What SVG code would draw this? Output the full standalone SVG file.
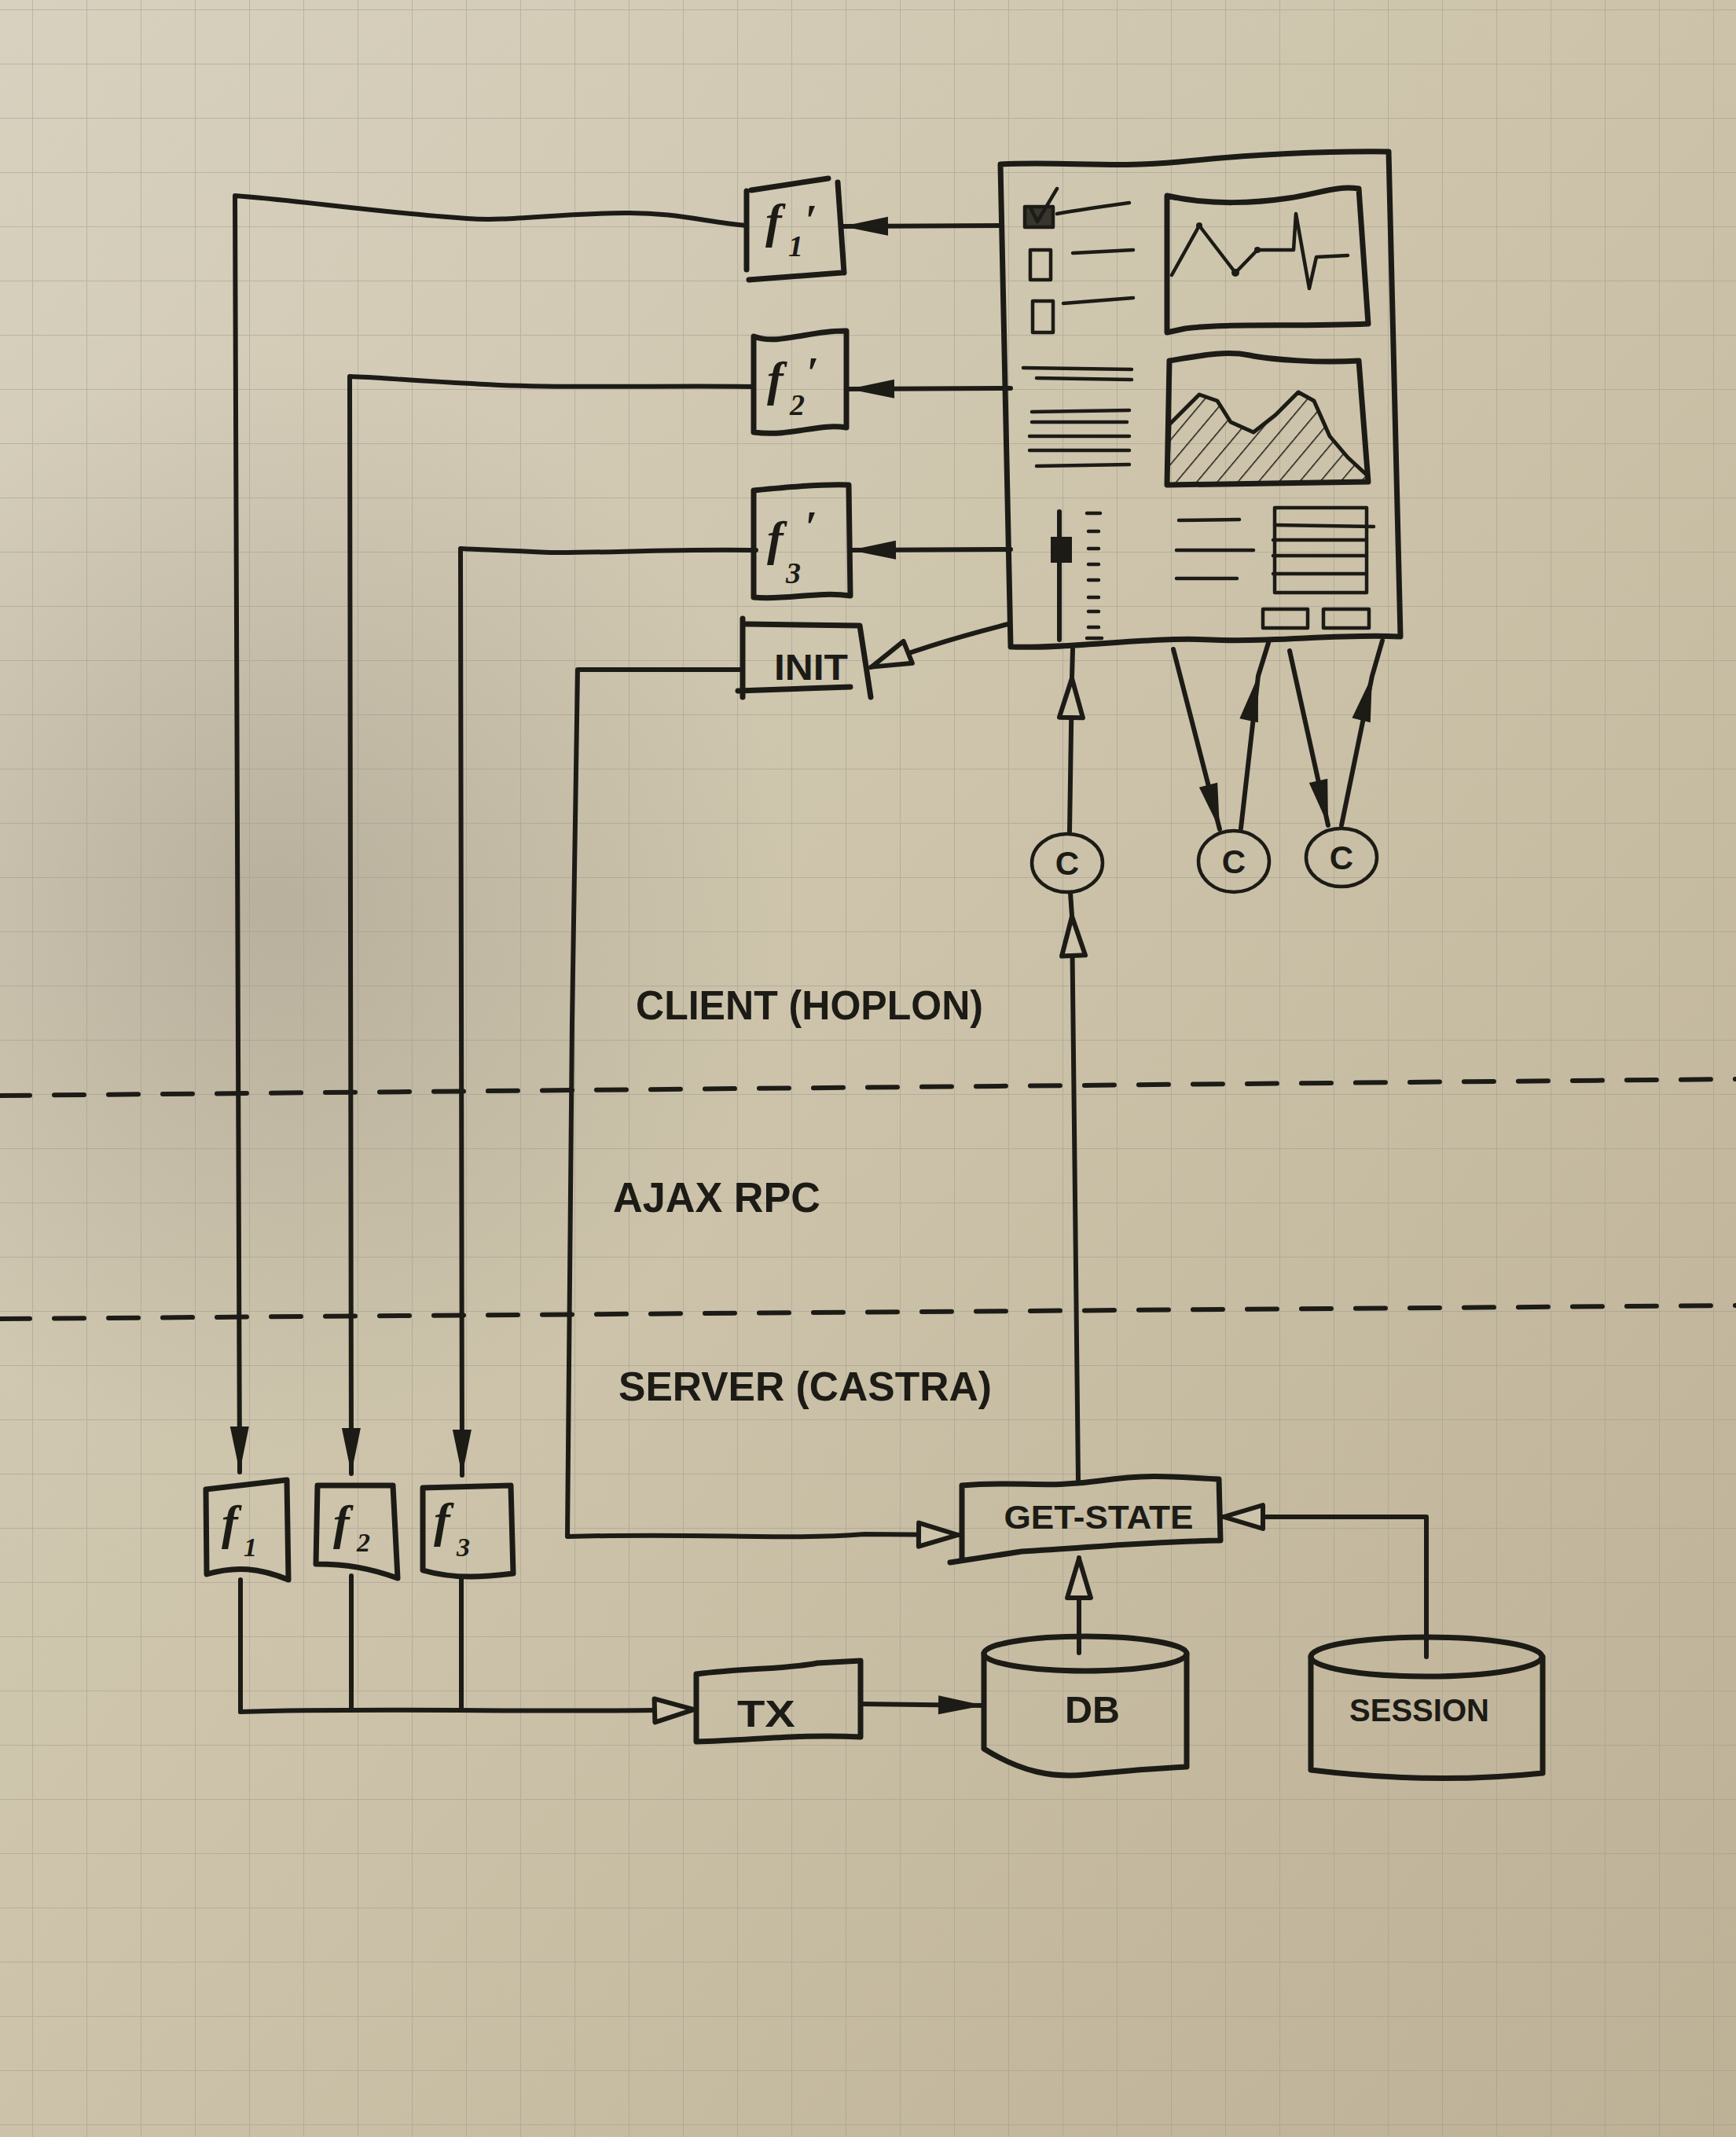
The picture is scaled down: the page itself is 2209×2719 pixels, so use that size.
<svg xmlns="http://www.w3.org/2000/svg" width="2209" height="2719" viewBox="0 0 2209 2719">
<defs>
  <linearGradient id="paper" x1="0" y1="0" x2="1" y2="1">
    <stop offset="0" stop-color="#d8d1bf"/>
    <stop offset="0.45" stop-color="#cdc4ab"/>
    <stop offset="1" stop-color="#bdb196"/>
  </linearGradient>
  <radialGradient id="shade" cx="0.5" cy="0.5" r="0.5">
    <stop offset="0" stop-color="#8a8375" stop-opacity="0.35"/>
    <stop offset="1" stop-color="#8a8375" stop-opacity="0"/>
  </radialGradient>
  <pattern id="grid" width="69" height="69" patternUnits="userSpaceOnUse" x="41" y="12">
    <path d="M0,0 H69 M0,0 V69" stroke="#9d988c" stroke-opacity="0.5" stroke-width="2" fill="none"/>
  </pattern>
  <pattern id="hatch" width="20" height="20" patternUnits="userSpaceOnUse" patternTransform="rotate(40)">
    <line x1="0" y1="0" x2="0" y2="20" stroke="#1c1b16" stroke-width="3"/>
  </pattern>
  <marker id="af" markerUnits="userSpaceOnUse" viewBox="0 0 62 28" refX="60" refY="14" markerWidth="62" markerHeight="28" orient="auto">
    <path d="M2,2 L60,14 L2,26 Z" fill="#1c1b16"/>
  </marker>
  <marker id="ao" markerUnits="userSpaceOnUse" viewBox="0 0 60 38" refX="56" refY="19" markerWidth="60" markerHeight="38" orient="auto">
    <path d="M5,4 L55,19 L5,34 Z" fill="#cdc4ab" stroke="#1c1b16" stroke-width="6" stroke-linejoin="round"/>
  </marker>
  <style>
    .ink{fill:none;stroke:#1c1b16;stroke-width:6;stroke-linecap:round;stroke-linejoin:round}
    .thin{fill:none;stroke:#1c1b16;stroke-width:4.5;stroke-linecap:round;stroke-linejoin:round}
    .box{fill:none;stroke:#1c1b16;stroke-width:7;stroke-linecap:round;stroke-linejoin:round}
    .lbl{font-family:"Liberation Sans","DejaVu Sans",sans-serif;fill:#1c1b16;font-weight:bold}
    .fi{font-family:"Liberation Serif","DejaVu Serif",serif;font-style:italic;fill:#1c1b16;font-weight:bold}
    .dash{fill:none;stroke:#1c1b16;stroke-width:6;stroke-dasharray:38 31;stroke-linecap:round}
  </style>
</defs>

<rect width="2209" height="2719" fill="url(#paper)"/>
<ellipse cx="350" cy="1150" rx="650" ry="700" fill="url(#shade)"/>
<rect width="2209" height="2719" fill="url(#grid)"/>

<!-- tier separators -->
<g id="separators">
  <line class="dash" x1="0" y1="1394" x2="2209" y2="1373"/>
  <line class="dash" x1="0" y1="1678" x2="2209" y2="1661"/>
</g>

<g id="tier-labels">
  <text class="lbl" x="809" y="1297" font-size="52" textLength="442" lengthAdjust="spacingAndGlyphs">CLIENT (HOPLON)</text>
  <text class="lbl" x="780" y="1542" font-size="54" textLength="264" lengthAdjust="spacingAndGlyphs">AJAX RPC</text>
  <text class="lbl" x="787" y="1782" font-size="52" textLength="475" lengthAdjust="spacingAndGlyphs">SERVER (CASTRA)</text>
</g>

<!-- connectors -->
<g id="connectors">
  <path class="ink" d="M950,287 C900,283 860,270 795,271 C700,272 650,282 594,278 C480,270 380,255 299,249 L305,1873" marker-end="url(#af)"/>
  <path class="ink" d="M959,492 C850,490 700,495 600,488 C520,484 480,480 445,479 L447,1875" marker-end="url(#af)"/>
  <path class="ink" d="M962,700 C860,698 760,704 700,703 C640,700 600,699 586,698 L588,1877" marker-end="url(#af)"/>
  <path class="ink" d="M945,852 L735,852 L728,1300 L722,1955 C900,1950 1000,1960 1100,1952 L1220,1953" marker-end="url(#ao)"/>

  <path class="ink" d="M1274,287 L1072,288" marker-end="url(#af)"/>
  <path class="ink" d="M1286,494 L1080,495" marker-end="url(#af)"/>
  <path class="ink" d="M1286,699 L1082,700" marker-end="url(#af)"/>
  <path class="ink" d="M1283,794 C1200,815 1150,832 1108,849" marker-end="url(#ao)"/>

  <path class="ink" d="M306,2010 L306,2178"/>
  <path class="ink" d="M447,2005 L447,2176"/>
  <path class="ink" d="M587,2006 L587,2176"/>
  <path class="ink" d="M306,2178 C500,2172 700,2180 884,2175" marker-end="url(#ao)"/>
  <path class="ink" d="M1095,2168 L1252,2170" marker-end="url(#af)"/>
  <path class="ink" d="M1373,2103 L1373,1982" marker-end="url(#ao)"/>
  <path class="ink" d="M1815,2108 L1815,1930 L1556,1930" marker-end="url(#ao)"/>

  <path class="ink" d="M1372,1885 L1364,1165 L1362,1136" marker-mid="url(#ao)"/>
  <path class="ink" d="M1361,1058 L1364,862 L1365,826" marker-mid="url(#ao)"/>
  <path class="ink" d="M1493,826 L1552,1055" marker-end="url(#af)"/>
  <path class="ink" d="M1579,1054 L1601,860 L1614,818" marker-mid="url(#af)"/>
  <path class="ink" d="M1641,828 L1690,1050" marker-end="url(#af)"/>
  <path class="ink" d="M1707,1050 L1746,860 L1759,815" marker-mid="url(#af)"/>
</g>

<!-- UI mockup panel -->
<g id="ui-panel">
  <path class="box" d="M1273,209 C1350,205 1420,214 1500,206 S1680,192 1767,193 L1782,810 C1700,806 1620,818 1540,814 S1360,826 1286,823 Z"/>
  <!-- checkboxes -->
  <rect x="1304" y="263" width="36" height="26" fill="#1c1b16" opacity="0.85"/>
  <rect class="thin" x="1304" y="263" width="36" height="26"/>
  <path class="thin" d="M1312,266 L1320,282 L1345,240"/>
  <path class="thin" d="M1345,272 C1380,266 1410,262 1437,258"/>
  <rect class="thin" x="1311" y="318" width="26" height="38"/>
  <path class="thin" d="M1365,322 L1442,318"/>
  <rect class="thin" x="1314" y="383" width="26" height="40"/>
  <path class="thin" d="M1353,386 L1442,379"/>
  <!-- chart 1 -->
  <path class="box" d="M1485,249 C1540,262 1600,258 1640,252 S1700,236 1729,240 L1741,412 C1650,416 1560,411 1508,418 L1485,423 Z"/>
  <path class="thin" d="M1491,350 L1526,287 L1572,347 L1600,318 L1646,318 L1649,272 L1666,367 L1675,327 L1715,325"/>
  <circle cx="1526" cy="287" r="4" fill="#1c1b16"/>
  <circle cx="1572" cy="347" r="5" fill="#1c1b16"/>
  <circle cx="1600" cy="318" r="4" fill="#1c1b16"/>
  <!-- chart 2 -->
  <path d="M1488,540 L1526,502 L1549,510 L1566,537 L1595,550 L1623,528 L1652,499 L1672,510 L1692,555 L1715,582 L1741,606 L1741,613 L1485,617 Z" fill="url(#hatch)" stroke="#1c1b16" stroke-width="5" stroke-linejoin="round"/>
  <path class="box" d="M1488,459 C1530,452 1560,446 1590,452 S1680,462 1729,459 L1741,613 L1485,617 Z"/>
  <!-- text lines -->
  <path class="thin" d="M1302,468 L1440,470 M1319,481 L1440,483 M1313,524 L1437,522 M1313,537 L1434,537 M1310,555 L1437,555 M1310,573 L1437,573 M1319,593 L1437,591"/>
  <!-- slider -->
  <path class="ink" d="M1348,651 L1348,814"/>
  <rect x="1337" y="683" width="27" height="33" fill="#1c1b16"/>
  <path class="thin" d="M1383,653 L1400,653 M1385,676 L1398,676 M1385,698 L1398,698 M1385,718 L1398,718 M1385,738 L1398,738 M1385,760 L1398,760 M1385,778 L1398,778 M1385,798 L1398,798 M1383,812 L1402,812"/>
  <!-- labels and fields -->
  <path class="thin" d="M1500,662 L1577,661 M1497,700 L1595,700 M1497,736 L1574,736"/>
  <rect class="thin" x="1622" y="646" width="117" height="108"/>
  <path class="thin" d="M1622,668 L1748,670 M1620,687 L1739,687 M1620,707 L1739,707 M1620,730 L1739,730"/>
  <rect class="thin" x="1607" y="775" width="57" height="24"/>
  <rect class="thin" x="1684" y="775" width="58" height="24"/>
</g>

<g id="f1p">
  <path class="box" d="M950,243 L950,343 M956,242 L1054,227 M1066,232 L1074,347 M953,356 L1071,347"/>
  <text class="fi" font-size="62"><tspan x="974" y="302">f</tspan><tspan x="1003" y="326" font-size="38">1</tspan><tspan x="1024" y="300" font-size="56">′</tspan></text>
</g>
<g id="f2p">
  <path class="box" d="M959,428 C990,440 1030,420 1077,421 L1077,544 C1040,538 1010,556 959,550 Z"/>
  <text class="fi" font-size="62"><tspan x="976" y="503">f</tspan><tspan x="1005" y="528" font-size="38">2</tspan><tspan x="1026" y="494" font-size="56">′</tspan></text>
</g>
<g id="f3p">
  <path class="box" d="M959,624 C1000,620 1040,616 1080,617 L1082,758 C1040,752 1000,764 959,760 Z"/>
  <text class="fi" font-size="62"><tspan x="976" y="706">f</tspan><tspan x="1000" y="742" font-size="38">3</tspan><tspan x="1024" y="690" font-size="56">′</tspan></text>
</g>
<g id="init">
  <path class="box" d="M945,787 L945,887 M950,794 L1094,796 L1108,887 M939,879 L1082,874"/>
  <text class="lbl" x="985" y="865" font-size="46" textLength="94" lengthAdjust="spacingAndGlyphs">INIT</text>
</g>

<g id="c1">
  <ellipse class="thin" cx="1358" cy="1098" rx="45" ry="37"/>
  <text class="lbl" x="1358" y="1113" font-size="42" text-anchor="middle">C</text>
</g>
<g id="c2">
  <ellipse class="thin" cx="1570" cy="1096" rx="45" ry="39"/>
  <text class="lbl" x="1570" y="1111" font-size="42" text-anchor="middle">C</text>
</g>
<g id="c3">
  <ellipse class="thin" cx="1707" cy="1091" rx="45" ry="37"/>
  <text class="lbl" x="1707" y="1106" font-size="42" text-anchor="middle">C</text>
</g>

<g id="f1">
  <path class="box" d="M262,1895 L365,1883 L367,2010 C330,1995 300,1992 263,2003 Z"/>
  <text class="fi" font-size="62"><tspan x="282" y="1958">f</tspan><tspan x="310" y="1980" font-size="34">1</tspan></text>
</g>
<g id="f2">
  <path class="box" d="M404,1890 L500,1890 L506,2008 C470,1995 440,1990 402,1990 Z"/>
  <text class="fi" font-size="62"><tspan x="424" y="1958">f</tspan><tspan x="454" y="1974" font-size="34">2</tspan></text>
</g>
<g id="f3">
  <path class="box" d="M538,1893 L650,1890 L653,2002 C620,2006 580,2010 538,1998 Z"/>
  <text class="fi" font-size="62"><tspan x="552" y="1955">f</tspan><tspan x="581" y="1980" font-size="34">3</tspan></text>
</g>

<g id="tx">
  <path class="box" d="M886,2130 C950,2122 1000,2124 1040,2116 L1095,2113 L1095,2210 C1020,2206 960,2214 886,2216 Z"/>
  <text class="lbl" x="975" y="2197" font-size="48" text-anchor="middle" textLength="74" lengthAdjust="spacingAndGlyphs">TX</text>
</g>

<g id="get-state">
  <path class="box" d="M1224,1890 C1300,1884 1330,1894 1400,1884 S1500,1880 1551,1882 L1553,1960 C1450,1962 1400,1968 1300,1974 L1209,1988 M1224,1890 L1224,1982"/>
  <text class="lbl" x="1398" y="1945" font-size="42" text-anchor="middle" textLength="241" lengthAdjust="spacingAndGlyphs">GET-STATE</text>
</g>

<g id="db">
  <ellipse class="box" cx="1381" cy="2104" rx="129" ry="22"/>
  <path class="box" d="M1252,2104 L1252,2225 C1300,2255 1340,2262 1381,2258 S1470,2250 1510,2248 L1510,2104"/>
  <text class="lbl" x="1390" y="2192" font-size="48" text-anchor="middle" textLength="70" lengthAdjust="spacingAndGlyphs">DB</text>
</g>

<g id="session">
  <ellipse class="box" cx="1815" cy="2108" rx="147" ry="25"/>
  <path class="box" d="M1668,2108 L1668,2252 C1750,2262 1850,2268 1963,2256 L1963,2108"/>
  <text class="lbl" x="1806" y="2190" font-size="40" text-anchor="middle" textLength="178" lengthAdjust="spacingAndGlyphs">SESSION</text>
</g>
</svg>
